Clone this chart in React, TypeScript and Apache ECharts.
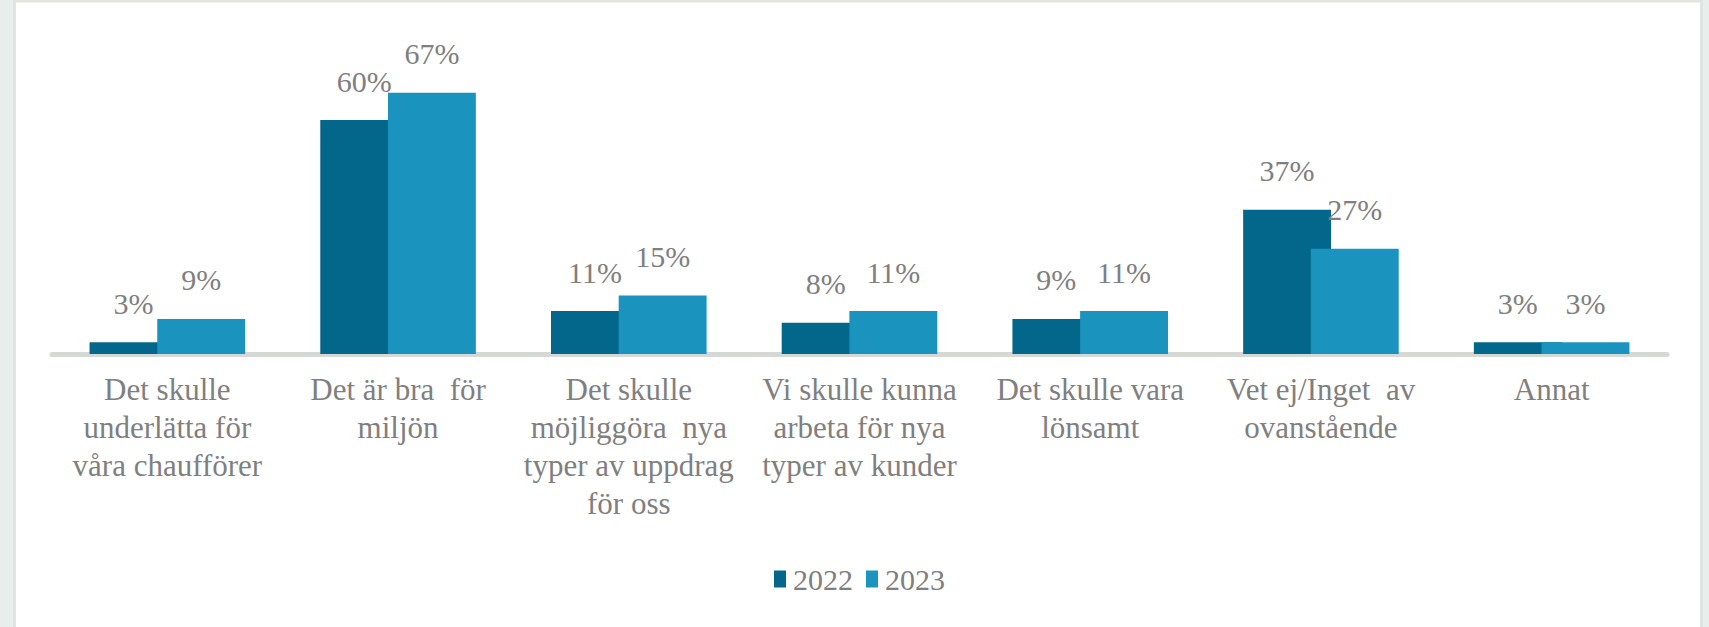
import React, { useEffect, useRef } from "react";
import * as echarts from "echarts";

const categories: string[] = [
  "Det skulle\nunderlätta för\nvåra chaufförer",
  "Det är bra  för\nmiljön",
  "Det skulle\nmöjliggöra  nya\ntyper av uppdrag\nför oss",
  "Vi skulle kunna\narbeta för nya\ntyper av kunder",
  "Det skulle vara\nlönsamt",
  "Vet ej/Inget  av\novanstående",
  "Annat",
];
const values2022: number[] = [3, 60, 11, 8, 9, 37, 3];
const values2023: number[] = [9, 67, 15, 11, 11, 27, 3];
const seriesNames: string[] = ["2022", "2023"];

const FONT = "'Liberation Serif', 'DejaVu Serif', serif";
const TEXT_COLOR = "#7f7f7f";

export default function App() {
  const ref = useRef<HTMLDivElement>(null);
  useEffect(() => {
    document.body.style.margin = "0";
    if (!ref.current) return;
    const chart = echarts.init(ref.current, undefined, { renderer: "svg" });
    const labelCfg = {
      show: true,
      position: "top" as const,
      distance: 24,
      formatter: "{c}%",
      color: TEXT_COLOR,
      fontFamily: FONT,
      fontSize: 30,
    };
    chart.setOption({
      animation: false,
      backgroundColor: "#e8eeeb",
      graphic: [
        {
          type: "rect",
          z: -10,
          silent: true,
          shape: { x: 14.5, y: 1, width: 1687, height: 660 },
          style: { fill: "#ffffff", stroke: "#e2e4e2", lineWidth: 3 },
        },
      ],
      grid: { left: 52, right: 42, top: 42, bottom: 273, containLabel: false },
      legend: {
        data: seriesNames,
        left: 769,
        top: 559,
        icon: "rect",
        itemWidth: 12,
        itemHeight: 17,
        itemGap: 13,
        textStyle: {
          color: TEXT_COLOR,
          fontFamily: FONT,
          fontSize: 30,
          padding: [0, 0, 0, 2],
        },
      },
      xAxis: {
        type: "category",
        data: categories,
        axisLine: { show: true, lineStyle: { color: "#d6d8d6", width: 5 } },
        axisTick: { show: false },
        axisLabel: {
          interval: 0,
          margin: 16,
          color: TEXT_COLOR,
          fontFamily: FONT,
          fontSize: 31,
          lineHeight: 38,
        },
      },
      yAxis: {
        type: "value",
        min: 0,
        max: 80,
        interval: 10,
        show: false,
        splitLine: { show: false },
      },
      series: [
        {
          name: seriesNames[0],
          type: "bar",
          data: values2022,
          barWidth: "38.1%",
          barGap: "-23%",
          itemStyle: { color: "#03668b" },
          label: labelCfg,
        },
        {
          name: seriesNames[1],
          type: "bar",
          data: values2023,
          barWidth: "38.1%",
          barGap: "-23%",
          itemStyle: { color: "#1b93bf" },
          label: labelCfg,
        },
      ],
    });
    return () => chart.dispose();
  }, []);
  return <div ref={ref} style={{ width: 1709, height: 627 }} />;
}
